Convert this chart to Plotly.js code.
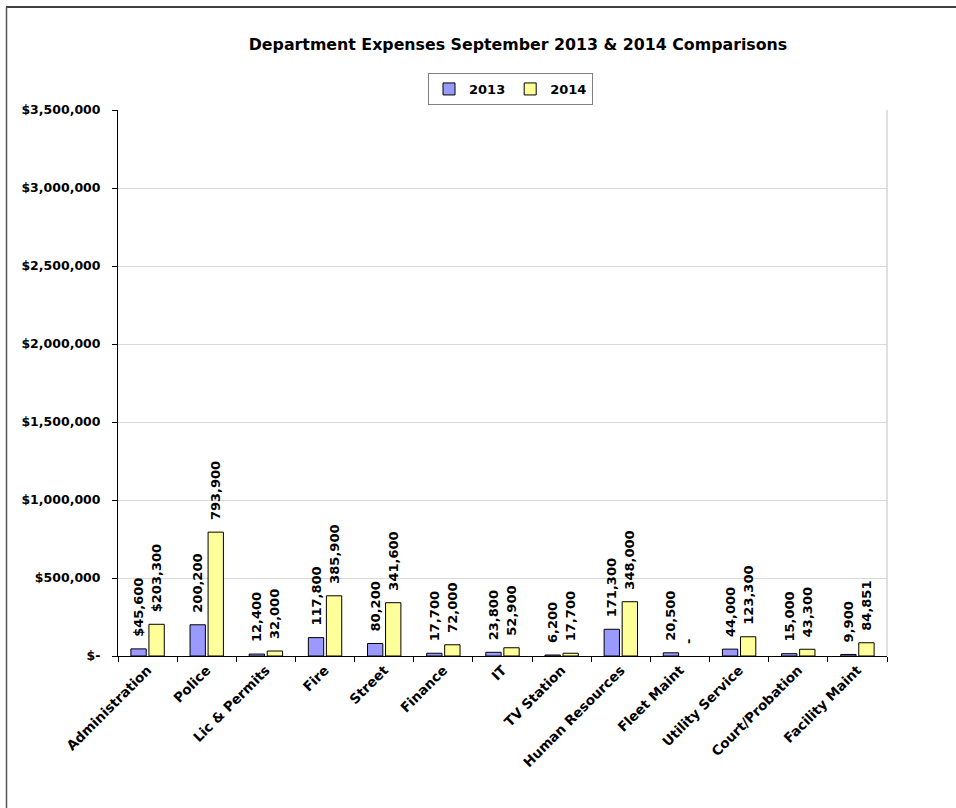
<!DOCTYPE html>
<html>
<head>
<meta charset="utf-8">
<script src="https://cdn.plot.ly/plotly-3.0.1.min.js"></script>
<style>html,body{margin:0;padding:0;background:#fff;}#chart{width:956px;height:808px;}</style>
</head>
<body>
<div id="chart"></div>
<script>
const categories = ["Administration","Police","Lic & Permits","Fire","Street","Finance","IT","TV Station","Human Resources","Fleet Maint","Utility Service","Court/Probation","Facility Maint"];
const values2013 = [45600,200200,12400,117800,80200,17700,23800,6200,171300,20500,44000,15000,9900];
const values2014 = [203300,793900,32000,385900,341600,72000,52900,17700,348000,0,123300,43300,84851];
const dollarCategories = ["Administration"];
const yTickVals = [0,500000,1000000,1500000,2000000,2500000,3000000,3500000];
const yTickText = ["$-","$500,000","$1,000,000","$1,500,000","$2,000,000","$2,500,000","$3,000,000","$3,500,000"];

const FONT = "DejaVu Sans, Arial, sans-serif";
function fmt(v, cat){
  const s = v === 0 ? "-" : v.toLocaleString("en-US");
  const pre = (dollarCategories.includes(cat) && v !== 0) ? "$" : "";
  return "\u00a0\u00a0" + pre + s;
}
function mk(name, vals, color){
  return {
    type: "bar", name: name, x: categories, y: vals,
    text: vals.map((v,i)=>fmt(v, categories[i])),
    textposition: "outside", textangle: -90, constraintext: "none", cliponaxis: false,
    textfont: {family: FONT, size: 13, color: "#000", weight: "bold"},
    marker: {color: color, line: {color: "#000", width: vals.map(v => v === 0 ? 0 : 1)}},
    hoverinfo: "x+y"
  };
}
const data = [mk("2013", values2013, "#9999FF"), mk("2014", values2014, "#FFFF99")];

const L=118, R=887, T=110, B=656;
const px2x = p => (p-L)/(R-L);
const py2y = p => (B-p)/(B-T);

const layout = {
  width: 956, height: 808,
  margin: {l: L, r: 956-R, t: T, b: 808-B, pad: 0},
  paper_bgcolor: "#fff", plot_bgcolor: "#fff",
  font: {family: FONT, size: 13, color: "#000", weight: "bold"},
  title: {text: "Department Expenses September 2013 & 2014 Comparisons",
          font: {family: FONT, size: 15.8, color: "#000", weight: "bold"},
          x: 518/956, xref: "container", xanchor: "center", y: 1-44/808, yref: "container", yanchor: "middle"},
  barmode: "group", bargap: 0.39, bargroupgap: 0.15,
  showlegend: true,
  legend: {orientation: "h", x: px2x(428), y: py2y(73), xanchor: "left", yanchor: "top",
           bordercolor: "#808080", borderwidth: 1, bgcolor: "#fff",
           font: {family: FONT, size: 13, color: "#000", weight: "bold"}, itemwidth: 30,
           tracegroupgap: 0},
  xaxis: {type: "category", showline: true, linecolor: "#000", linewidth: 1,
          ticks: "outside", tickson: "boundaries", ticklen: 5, tickcolor: "#000",
          tickangle: -45, tickfont: {family: FONT, size: 13.5, color: "#000", weight: "bold"},
          showgrid: false, fixedrange: true},
  yaxis: {range: [0, 3500000], tickvals: yTickVals, ticktext: yTickText,
          showline: true, linecolor: "#000", linewidth: 1,
          ticks: "outside", ticklen: 5, tickcolor: "#000",
          showgrid: true, gridcolor: "#d9d9d9", gridwidth: 1, zeroline: false,
          tickfont: {family: FONT, size: 12.5, color: "#000", weight: "bold"},
          ticklabelstandoff: 9, fixedrange: true},
  shapes: [
    {type: "line", xref: "paper", yref: "paper", x0: 1, x1: 1, y0: 0, y1: 1, line: {color: "#c0c0c0", width: 1}},
    {type: "line", xref: "paper", yref: "paper", x0: px2x(6), x1: px2x(956), y0: py2y(7), y1: py2y(7), line: {color: "#000", width: 1.5}},
    {type: "line", xref: "paper", yref: "paper", x0: px2x(6.5), x1: px2x(6.5), y0: py2y(7), y1: py2y(808), line: {color: "#555", width: 1.5}}
  ]
};
Plotly.newPlot("chart", data, layout, {displayModeBar: false, staticPlot: true});
</script>
</body>
</html>
